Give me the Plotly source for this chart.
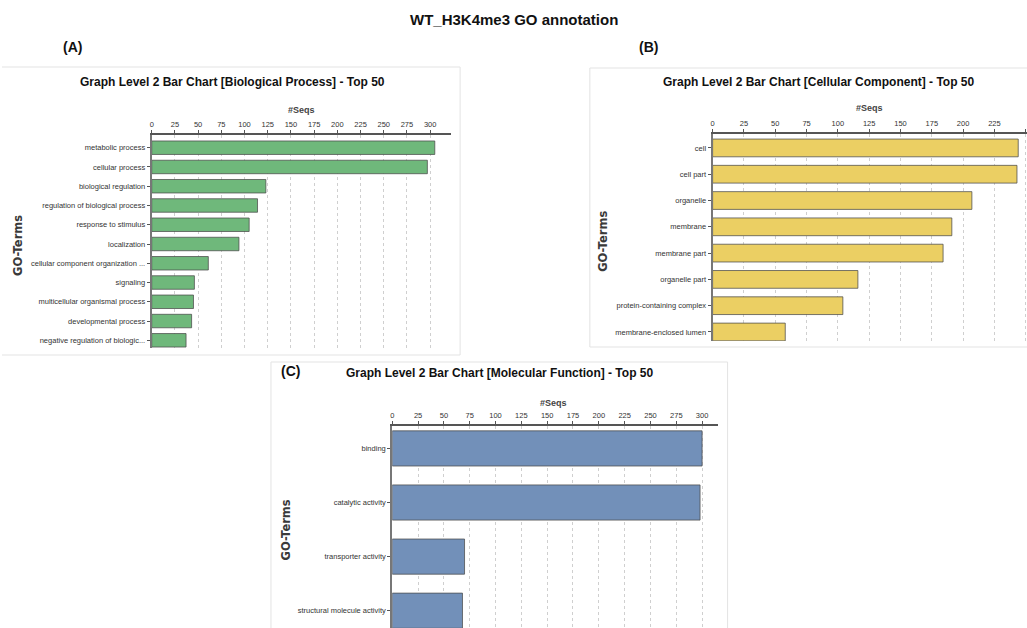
import plotly.graph_objects as go

W, H = 1027, 628

# ---- data ----
bp_terms = ["metabolic process", "cellular process", "biological regulation",
            "regulation of biological process", "response to stimulus", "localization",
            "cellular component organization ...", "signaling",
            "multicellular organismal process", "developmental process",
            "negative regulation of biologic..."]
bp_seqs = [305, 297, 123, 114, 105, 94, 61, 46, 45, 43, 37]

cc_terms = ["cell", "cell part", "organelle", "membrane", "membrane part",
            "organelle part", "protein-containing complex", "membrane-enclosed lumen"]
cc_seqs = [244, 243, 207, 191, 184, 116, 104, 58]

mf_terms = ["binding", "catalytic activity", "transporter activity",
            "structural molecule activity"]
mf_seqs = [300, 298, 70, 68]

SANS = "Liberation Sans, Arial, sans-serif"


def px(x):
    return x / W


def py(y):
    return 1 - y / H


fig = go.Figure()

panels = [
    # terms, values, colour, axis suffix, x px domain, x max, y px domain, y range, bar width
    (bp_terms, bp_seqs, "#6fb87b", "", (150, 450), 322.6, (135, 348), [10.4, -0.66], 0.70),
    (cc_terms, cc_seqs, "#ebcf63", "2", (712, 1027), 251.0, (134, 341), [7.343, -0.53], 0.675),
    (mf_terms, mf_seqs, "#7290b9", "3", (391, 717), 315.0, (425.7, 628), [3.32, -0.42], 0.65),
]

for terms, vals, col, sfx, xd, xmax, yd, yr, bw in panels:
    fig.add_trace(go.Bar(
        x=vals, y=terms, orientation="h", width=bw,
        marker=dict(color=col, line=dict(color="rgba(75,75,75,0.75)", width=1)),
        xaxis="x" + sfx, yaxis="y" + sfx, showlegend=False,
    ))
    xa = dict(
        domain=[px(xd[0]), px(xd[1])], range=[0, xmax], side="top",
        anchor="y" + sfx, tick0=0, dtick=25,
        showline=True, linecolor="#555555", linewidth=2,
        ticks="outside", ticklen=3, tickcolor="#555555",
        tickfont=dict(family=SANS, size=7.5, color="#333333"),
        showgrid=True, gridcolor="#cfcfcf", griddash="dot", gridwidth=1,
        zeroline=False, fixedrange=True,
    )
    ya = dict(
        domain=[py(yd[1]), py(yd[0])], range=yr, type="category",
        anchor="x" + sfx, showline=True, linecolor="#777777", linewidth=2,
        ticks="outside", ticklen=3, tickcolor="#555555",
        tickfont=dict(family=SANS, size=7.5, color="#333333"),
        showgrid=False, zeroline=False, fixedrange=True,
    )
    fig.update_layout(**{"xaxis" + sfx: xa, "yaxis" + sfx: ya})

annotations = [
    dict(x=513, y=19, text="<b>WT_H3K4me3 GO annotation</b>", size=15),
    dict(x=71, y=47, text="<b>(A)</b>", size=14),
    dict(x=648, y=47, text="<b>(B)</b>", size=14),
    dict(x=289, y=371, text="<b>(C)</b>", size=14),
    dict(x=231, y=82, text="<b>Graph Level 2 Bar Chart [Biological Process] - Top 50</b>",
         size=12),
    dict(x=818, y=82, text="<b>Graph Level 2 Bar Chart [Cellular Component] - Top 50</b>",
         size=12),
    dict(x=498, y=373, text="<b>Graph Level 2 Bar Chart [Molecular Function] - Top 50</b>",
         size=12),
    dict(x=300, y=110, text="<b>#Seqs</b>", size=9, color="#444444"),
    dict(x=869, y=108, text="<b>#Seqs</b>", size=9, color="#444444"),
    dict(x=553, y=403, text="<b>#Seqs</b>", size=9, color="#444444"),
]
for a in annotations:
    fig.add_annotation(
        x=px(a["x"]), y=py(a["y"]), xref="paper", yref="paper",
        text=a["text"], showarrow=False, xanchor="center", yanchor="middle",
        font=dict(family=SANS, size=a["size"], color=a.get("color", "#111111")),
    )

for gx, gy in [(16, 245), (602, 241), (285, 530)]:
    fig.add_annotation(
        x=px(gx), y=py(gy), xref="paper", yref="paper", text="<b>GO-Terms</b>",
        showarrow=False, textangle=-90, xanchor="center", yanchor="middle",
        font=dict(family="DejaVu Sans, sans-serif", size=11.5, color="#3a3a3a"),
    )

# faint panel frames
frame = dict(color="#e3e3e3", width=1)
for x0, y0, x1, y1 in [
    (0, 67, 459, 67), (459, 67, 459, 355), (0, 355, 459, 355),
    (589, 68, 1027, 68), (589, 68, 589, 347), (589, 347, 1027, 347),
    (269.5, 362, 727, 362), (269.5, 362, 269.5, 628), (727, 362, 727, 628),
]:
    fig.add_shape(type="line", xref="paper", yref="paper",
                  x0=px(x0), y0=py(y0), x1=px(x1), y1=py(y1), line=frame)

fig.update_layout(
    width=W, height=H, margin=dict(l=0, r=0, t=0, b=0),
    paper_bgcolor="white", plot_bgcolor="white", bargap=0.3,
)

fig.write_html("out.html", config={"displayModeBar": False})
